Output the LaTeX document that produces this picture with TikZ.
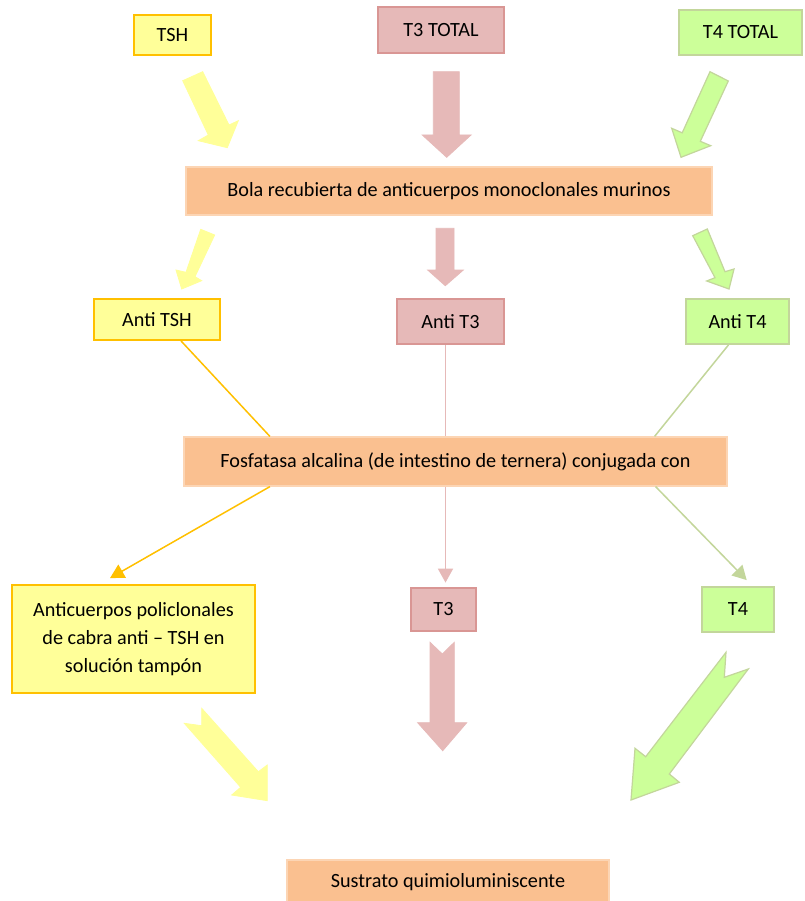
\documentclass[tikz,border=0pt]{standalone}
\usepackage{fontspec}
\setmainfont{Carlito}
\usetikzlibrary{arrows.meta}
\definecolor{ylwfill}{HTML}{FFFF99}
\definecolor{ylwline}{HTML}{FFC000}
\definecolor{pnkfill}{HTML}{E6B9B8}
\definecolor{pnkline}{HTML}{D99694}
\definecolor{grnfill}{HTML}{CCFF99}
\definecolor{grnline}{HTML}{C3D69B}
\definecolor{orgfill}{HTML}{FAC090}
\definecolor{orgline}{HTML}{FCD5B4}
\tikzset{
  box/.style={rectangle, inner sep=0pt, line width=1.8pt, text=black,
    font=\fontsize{20.2}{28.3}\selectfont, align=center},
  ybox/.style={box, fill=ylwfill, draw=ylwline},
  pbox/.style={box, fill=pnkfill, draw=pnkline},
  gbox/.style={box, fill=grnfill, draw=grnline},
  obox/.style={box, fill=orgfill, draw=orgline, line width=1.2pt},
  ylink/.style={draw=ylwline, line width=1.5pt},
  plink/.style={draw=pnkfill, line width=1.7pt},
  glink/.style={draw=grnline, line width=1.5pt},
  tip/.style={-{Triangle[length=14pt,width=15pt]}},
  yblock/.style={fill=ylwfill, draw=ylwfill, line width=0.8pt, line join=miter},
  pblock/.style={fill=pnkfill, draw=pnkfill, line width=0.8pt, line join=miter},
  gblock/.style={fill=grnfill, draw=grnline, line width=1.2pt, line join=miter},
}
\begin{document}
\begin{tikzpicture}[x=1pt, y=-1pt]
\fill[white] (0,0) rectangle (804,901);
\useasboundingbox (0,0) rectangle (804,901);

% first row: analytes
\node[ybox, minimum width=77pt, minimum height=40pt] (tsh) at (172.5,35) {TSH};
\node[pbox, minimum width=126pt, minimum height=46pt] (t3tot) at (441,30) {T3 TOTAL};
\node[gbox, minimum width=123pt, minimum height=45pt] (t4tot) at (740.5,32.5) {T4 TOTAL};

% block arrows into the coated bead
\path[yblock] (182.7,80.7) -- (202.7,71.7) -- (229,125) -- (238.3,120.7) -- (227.3,147.7) -- (198.3,140.7) -- (208.3,135) -- cycle;
\path[pblock] (433.3,71.7) -- (459.3,71.7) -- (459.3,135) -- (471,135) -- (446.7,157.3) -- (422.3,135) -- (433.3,135) -- cycle;
\path[gblock] (710,71.7) -- (728.3,81) -- (700.3,141.3) -- (710.7,145.7) -- (681,157.3) -- (671.7,128.3) -- (682.2,132.8) -- cycle;

\node[obox, minimum width=526pt, minimum height=48pt] (bola) at (449,191) {Bola recubierta de anticuerpos monoclonales murinos};

% block arrows to the antibodies
\path[yblock] (200.7,229.3) -- (214.7,235) -- (195,276.7) -- (201.7,280.7) -- (181.7,289) -- (176,270) -- (186,272.3) -- cycle;
\path[pblock] (436,228.3) -- (454,228.3) -- (454,270) -- (463.3,270) -- (445.3,285.7) -- (427.7,270) -- (436,270) -- cycle;
\path[gblock] (692.7,235.7) -- (707.3,229) -- (725,271.7) -- (734,269) -- (729,289) -- (706.7,281) -- (715,277.7) -- cycle;

% second row: antibodies
\node[ybox, minimum width=126pt, minimum height=41pt] (atsh) at (157,319.5) {Anti TSH};
\node[pbox, minimum width=107pt, minimum height=45pt] (at3) at (450.5,321.5) {Anti T3};
\node[gbox, minimum width=103pt, minimum height=45pt] (at4) at (737.5,321.5) {Anti T4};

% conjugate
\node[obox, minimum width=543pt, minimum height=49pt] (fos) at (455.5,461.5) {Fosfatasa alcalina (de intestino de ternera) conjugada con};

% third row
\node[ybox, minimum width=243pt, minimum height=108pt] (acp) at (133.5,639) {Anticuerpos policlonales\\de cabra anti – TSH en\\solución tampón};
\node[pbox, minimum width=65pt, minimum height=43pt] (t3) at (443.5,609.5) {T3};
\node[gbox, minimum width=72pt, minimum height=45pt] (t4) at (738,609.5) {T4};

% connectors through the conjugate
\draw[ylink] ([xshift=24pt]atsh.south) -- ([xshift=86.5pt]fos.north west);
\draw[ylink, tip, ylwline] ([xshift=86.5pt]fos.south west) -- ([xshift=-23.5pt,yshift=6pt]acp.north);
\draw[plink] ([xshift=-5pt]at3.south) -- ([xshift=-10pt]fos.north);
\draw[plink, tip, pnkfill] ([xshift=-10pt]fos.south) -- ([xshift=2pt,yshift=4.5pt]t3.north);
\draw[glink] ([xshift=-9pt]at4.south) -- ([xshift=-73pt]fos.north east);
\draw[glink, tip, grnline] ([xshift=-72pt]fos.south east) -- ([xshift=8.7pt,yshift=6pt]t4.north);

% notched block arrows to the substrate
\path[yblock] (201.7,708.3) -- (258.3,771.7) -- (267.3,765) -- (267.3,800.7) -- (231.7,795) -- (240.7,787.3) -- (184.3,723.3) -- (201.7,725.7) -- cycle;
\path[pblock] (430,642.3) -- (442.3,654) -- (454.3,642.3) -- (454.3,722.7) -- (466.7,722.7) -- (442.7,750.7) -- (417.7,722.7) -- (430,722.7) -- cycle;
\path[gblock] (726,652.3) -- (724.3,677.3) -- (748.3,669) -- (669.3,774) -- (679.3,782.3) -- (631,800) -- (635,748.3) -- (645.7,756.7) -- cycle;

\node[obox, minimum width=322pt, minimum height=45pt] (sus) at (448,882.5) {Sustrato quimioluminiscente};
\end{tikzpicture}
\end{document}
